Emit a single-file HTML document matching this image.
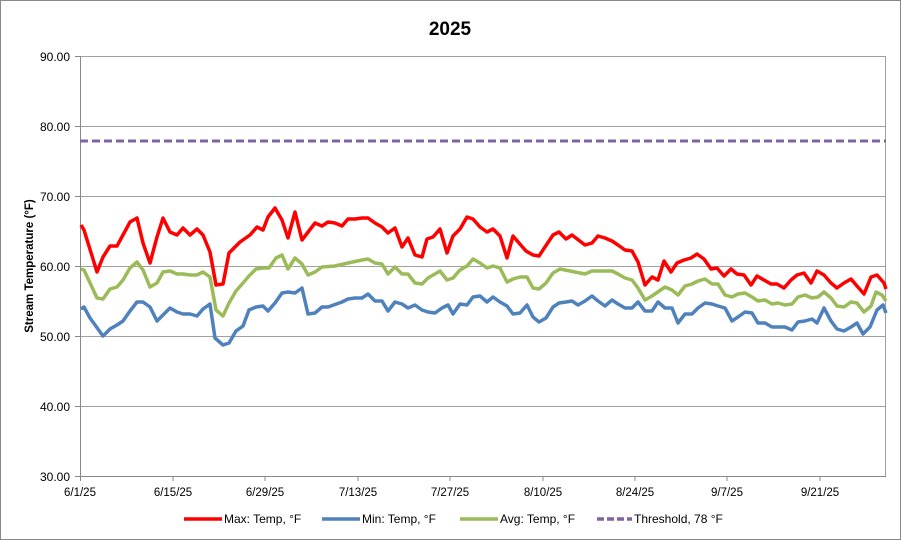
<!DOCTYPE html>
<html><head><meta charset="utf-8"><style>
html,body{margin:0;padding:0;background:#fff}
svg{display:block;font-family:"Liberation Sans",sans-serif}
</style></head><body>
<svg width="901" height="540" viewBox="0 0 901 540" xmlns="http://www.w3.org/2000/svg">
<rect x="0.5" y="0.5" width="900" height="539" fill="#fff" stroke="#888"/>
<text x="450" y="35" text-anchor="middle" font-size="19" font-weight="bold">2025</text>
<g stroke="#a0a0a0" stroke-width="1">
<line x1="80" y1="56.5" x2="886" y2="56.5"/>
<line x1="80" y1="126.5" x2="886" y2="126.5"/>
<line x1="80" y1="196.5" x2="886" y2="196.5"/>
<line x1="80" y1="266.5" x2="886" y2="266.5"/>
<line x1="80" y1="336.5" x2="886" y2="336.5"/>
<line x1="80" y1="406.5" x2="886" y2="406.5"/>
<line x1="885.5" y1="56" x2="885.5" y2="476"/>
</g>
<g stroke="#888" stroke-width="1">
<line x1="80.5" y1="56" x2="80.5" y2="481"/>
<line x1="75" y1="476.5" x2="886" y2="476.5"/>
<line x1="75" y1="56.5" x2="80" y2="56.5"/><line x1="75" y1="126.5" x2="80" y2="126.5"/><line x1="75" y1="196.5" x2="80" y2="196.5"/><line x1="75" y1="266.5" x2="80" y2="266.5"/><line x1="75" y1="336.5" x2="80" y2="336.5"/><line x1="75" y1="406.5" x2="80" y2="406.5"/>
<line x1="173" y1="476" x2="173" y2="481"/><line x1="265" y1="476" x2="265" y2="481"/><line x1="358" y1="476" x2="358" y2="481"/><line x1="450" y1="476" x2="450" y2="481"/><line x1="543" y1="476" x2="543" y2="481"/><line x1="635" y1="476" x2="635" y2="481"/><line x1="727" y1="476" x2="727" y2="481"/><line x1="820" y1="476" x2="820" y2="481"/>
</g>
<g font-size="12" text-anchor="end">
<text x="70" y="61">90.00</text><text x="70" y="131">80.00</text><text x="70" y="201">70.00</text><text x="70" y="271">60.00</text><text x="70" y="341">50.00</text><text x="70" y="411">40.00</text><text x="70" y="481">30.00</text>
</g>
<g font-size="11.5" text-anchor="middle">
<text x="80" y="496">6/1/25</text><text x="173" y="496">6/15/25</text><text x="265" y="496">6/29/25</text><text x="358" y="496">7/13/25</text><text x="450" y="496">7/27/25</text><text x="543" y="496">8/10/25</text><text x="635" y="496">8/24/25</text><text x="727" y="496">9/7/25</text><text x="820" y="496">9/21/25</text>
</g>
<text transform="translate(33,266) rotate(-90)" text-anchor="middle" font-size="11.5" font-weight="bold">Stream Temperature (°F)</text>
<line x1="80" y1="141" x2="886" y2="141" stroke="#8064a2" stroke-width="3" stroke-dasharray="8,4"/>
<g fill="none" stroke-width="3.5" stroke-linejoin="round">
<polyline stroke="#ff0000" points="81,225 84,230 97,272 103,257 110,246 117,246 130,222 137,218 143,243 150,263 157,237 163,218 170,232 177,235 183,228 190,235 197,229 203,235 210,252 216,285 223,284 229,253 240,242 250,235 257,227 263,230 268,217 275,208 282,220 288,238 295,212 302,240 315,223 322,226 328,222 335,223 342,226 348,219 355,219 362,218 368,218 375,223 382,227 388,233 395,228 402,247 408,238 415,255 422,257 427,239 433,237 440,229 447,253 453,236 460,229 467,217 473,219 480,227 487,232 493,229 500,236 507,258 513,236 519,243 526,251 533,255 539,256 553,235 559,232 566,239 572,235 585,245 592,243 598,236 605,238 612,241 618,245 625,250 632,251 638,262 645,285 652,277 658,280 664,261 671,272 677,263 684,260 691,258 697,254 704,259 711,269 717,268 724,276 731,269 737,274 744,275 751,285 757,276 764,280 771,284 777,284 784,288 791,280 797,275 804,273 811,283 817,271 824,275 831,283 837,288 844,283 851,279 857,286 864,294 871,277 877,275 884,283 886,289"/>
<polyline stroke="#9bbb59" points="81,269 84,270 97,298 103,299 110,289 117,287 123,280 130,268 137,262 143,270 150,287 157,283 163,272 170,271 177,274 183,274 190,275 197,275 203,272 210,277 216,310 223,316 229,303 236,291 243,283 249,276 256,269 263,268 269,268 276,258 282,255 288,269 295,258 302,264 308,275 315,272 322,267 335,266 348,263 362,260 368,259 375,263 382,264 388,274 395,267 402,274 408,274 415,283 422,284 428,278 440,271 447,280 453,278 460,270 467,266 473,259 480,263 487,268 493,266 500,268 507,282 513,279 520,277 527,277 533,288 539,289 546,283 553,273 560,269 585,274 592,271 605,271 612,271 618,274 625,278 632,280 638,288 645,300 652,296 665,287 672,290 678,295 685,286 692,284 698,281 705,279 712,284 718,284 725,295 732,297 738,294 745,293 752,297 758,301 765,300 772,304 778,303 785,305 792,304 798,297 805,295 812,298 818,297 824,292 831,298 837,306 844,307 851,302 857,303 864,312 871,306 876,292 882,295 886,301"/>
<polyline stroke="#4f81bd" points="81,309 84,307 90,318 103,336 110,329 117,325 123,321 130,311 137,302 143,302 150,307 157,321 163,315 170,308 177,312 183,314 190,314 197,316 203,309 210,304 215,338 223,345 229,343 236,331 243,326 249,310 256,307 263,306 268,311 275,303 282,293 288,292 295,293 302,288 308,314 315,313 322,307 328,307 342,302 348,299 355,298 362,298 368,294 375,301 382,301 388,311 395,302 402,304 408,308 415,305 422,310 428,312 435,313 442,308 448,305 453,314 460,304 467,305 473,297 480,296 487,302 493,297 500,302 507,306 513,314 520,313 527,305 533,317 539,322 546,318 553,307 559,303 566,302 572,301 578,305 585,301 592,296 598,301 605,306 612,300 618,304 625,308 632,308 638,302 645,311 652,311 658,302 665,308 672,308 678,323 685,314 692,314 698,308 705,303 712,304 718,306 725,308 732,321 738,317 745,312 752,313 758,323 765,323 772,327 785,327 792,330 798,322 805,321 812,319 817,323 824,308 831,321 837,329 844,331 851,327 857,323 863,334 870,327 877,310 883,305 886,313"/>
</g>
<g font-size="12">
<line x1="184" y1="519" x2="222" y2="519" stroke="#ff0000" stroke-width="3.5"/><text x="224" y="523">Max: Temp, °F</text>
<line x1="322" y1="519" x2="360" y2="519" stroke="#4f81bd" stroke-width="3.5"/><text x="362" y="523">Min: Temp, °F</text>
<line x1="460" y1="519" x2="498" y2="519" stroke="#9bbb59" stroke-width="3.5"/><text x="500" y="523">Avg: Temp, °F</text>
<line x1="597" y1="519" x2="632" y2="519" stroke="#8064a2" stroke-width="3.5" stroke-dasharray="7,3"/><text x="634" y="523">Threshold, 78 °F</text>
</g>
</svg>
</body></html>
